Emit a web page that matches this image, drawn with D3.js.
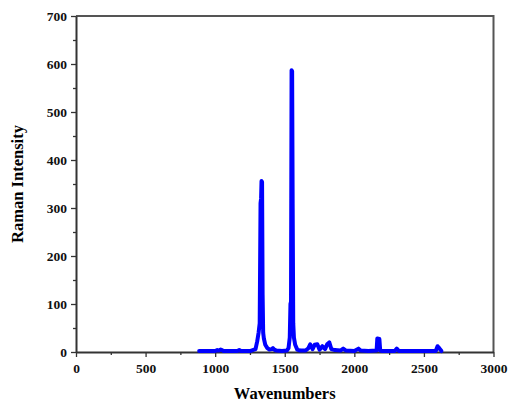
<!DOCTYPE html>
<html>
<head>
<meta charset="utf-8">
<script src="https://cdn.jsdelivr.net/npm/d3@7"></script>
<style>
  body { margin: 0; background: #fff; }
  svg text { font-family: "Liberation Serif", "Times New Roman", serif; font-weight: bold; }
</style>
</head>
<body>
<svg id="chart" width="508" height="402"></svg>
<script>
// spectrum
const wavenumbers = [885, 1000, 1015, 1025, 1040, 1050, 1060, 1100, 1160, 1173, 1185, 1250, 1290, 1302, 1312,
  1320, 1326, 1330, 1333, 1337, 1341, 1345, 1350, 1360, 1375, 1390, 1405, 1415, 1425, 1440, 1480, 1515, 1527,
  1536, 1541, 1545, 1549, 1553, 1557, 1561, 1566, 1575, 1590, 1610, 1650, 1670, 1683, 1700, 1715, 1734, 1750,
  1770, 1790, 1805, 1820, 1835, 1860, 1900, 1920, 1940, 2000, 2030, 2045, 2100, 2160, 2165, 2180, 2186, 2200,
  2290, 2305, 2320, 2450, 2585, 2598, 2610, 2626];
const intensity = [2, 2, 4, 3, 5, 4, 2, 2, 2, 4, 2, 2, 6, 22, 40,
  60, 310, 320, 356, 354, 120, 40, 28, 15, 8, 5, 6, 8, 5, 3, 2, 3, 8,
  30, 100, 105, 587, 585, 300, 60, 30, 15, 5, 3, 3, 8, 16, 6, 15, 16, 5,
  12, 6, 16, 20, 6, 4, 3, 7, 3, 2, 7, 3, 2, 3, 28, 27, 3, 2,
  2, 7, 2, 2, 2, 12, 8, 2];

const xTicks = [0, 500, 1000, 1500, 2000, 2500, 3000];
const yTicks = [0, 100, 200, 300, 400, 500, 600, 700];

const svg = d3.select('#chart');
const margin = {top: 16, right: 14, bottom: 50, left: 76};
const width = 508, height = 402;

const x = d3.scaleLinear().domain([0, 3000]).range([margin.left, width - margin.right - 0.5]);
const y = d3.scaleLinear().domain([0, 700]).range([height - margin.bottom, margin.top]);

// frame (top and right)
svg.append('path')
  .attr('d', `M${x(0)},${y(700)}H${x(3000)}V${y(0)}`)
  .attr('fill', 'none')
  .attr('stroke', '#555')
  .attr('stroke-width', 2);

// minor ticks
svg.append('g')
  .attr('transform', `translate(0,${y(0)})`)
  .call(d3.axisBottom(x).tickValues(d3.range(250, 3000, 500)).tickSize(3).tickFormat(''))
  .call(g => g.select('.domain').remove())
  .call(g => g.selectAll('line').attr('stroke', '#333').attr('stroke-width', 1.3));
svg.append('g')
  .attr('transform', `translate(${x(0)},0)`)
  .call(d3.axisLeft(y).tickValues(d3.range(50, 700, 100)).tickSize(3).tickFormat(''))
  .call(g => g.select('.domain').remove())
  .call(g => g.selectAll('line').attr('stroke', '#333').attr('stroke-width', 1.3));

const xAxis = svg.append('g')
  .attr('transform', `translate(0,${y(0)})`)
  .call(d3.axisBottom(x).tickValues(xTicks).tickFormat(d3.format('d'))
    .tickSize(5).tickSizeOuter(0).tickPadding(6));
const yAxis = svg.append('g')
  .attr('transform', `translate(${x(0)},0)`)
  .call(d3.axisLeft(y).tickValues(yTicks).tickFormat(d3.format('d'))
    .tickSize(5).tickSizeOuter(0).tickPadding(4));

[xAxis, yAxis].forEach(g => {
  g.select('.domain').attr('stroke', '#333').attr('stroke-width', 2);
  g.selectAll('line').attr('stroke', '#333').attr('stroke-width', 1.3);
  g.selectAll('text').attr('font-size', 13.5).attr('fill', '#111')
    .style('font-family', '"Liberation Serif", serif').style('font-weight', 'bold');
});

const line = d3.line()
  .x((d, i) => x(wavenumbers[i]))
  .y(d => y(d));

svg.append('path')
  .datum(intensity)
  .attr('d', line)
  .attr('fill', 'none')
  .attr('stroke', '#0000ff')
  .attr('stroke-width', 4)
  .attr('stroke-linejoin', 'round')
  .attr('stroke-linecap', 'round');

svg.append('text')
  .attr('x', (x(0) + x(3000)) / 2)
  .attr('y', 399)
  .attr('text-anchor', 'middle')
  .attr('font-size', 16.5)
  .text('Wavenumbers');

svg.append('text')
  .attr('transform', `translate(23,${(y(0) + y(700)) / 2}) rotate(-90)`)
  .attr('text-anchor', 'middle')
  .attr('font-size', 16.5)
  .text('Raman Intensity');
</script>
</body>
</html>
